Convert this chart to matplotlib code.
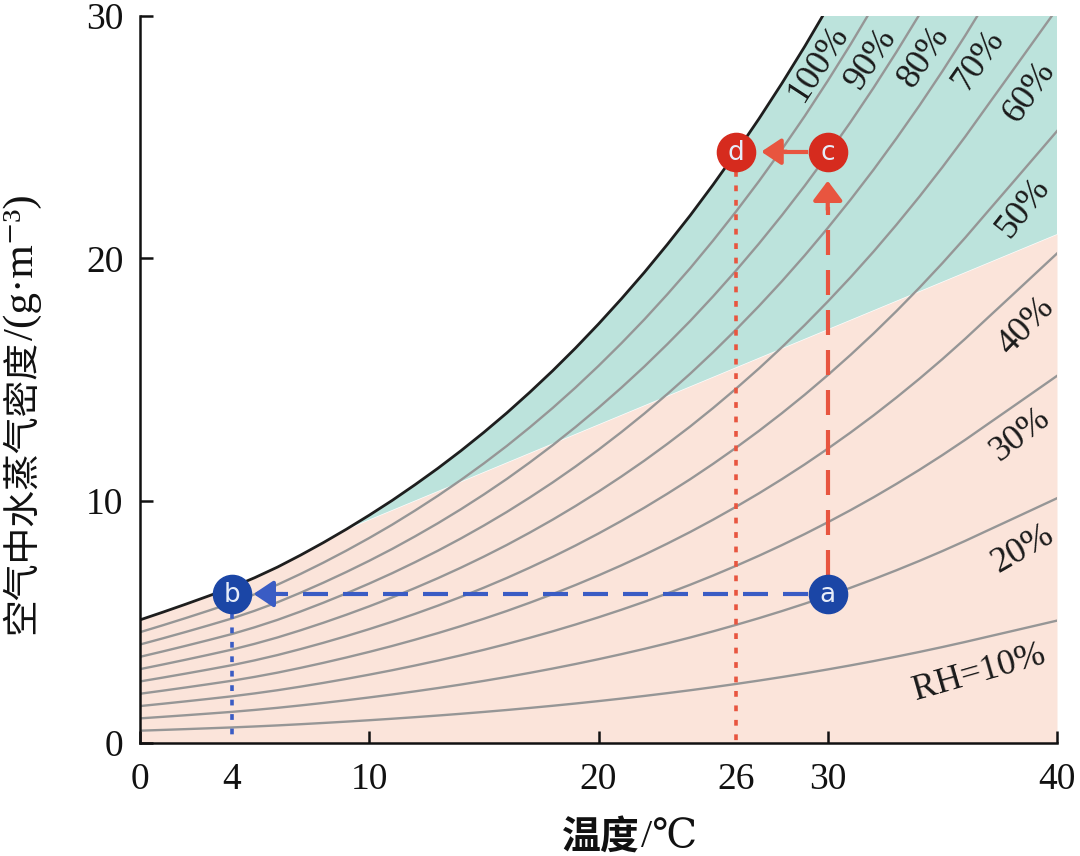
import numpy as np
import matplotlib
matplotlib.use("Agg")
import matplotlib.pyplot as plt

# ---------------- data ----------------
temps = list(range(0, 41))  # °C
sat_density = [5.08, 5.40, 5.73, 6.07, 6.42, 6.82, 7.26, 7.75, 8.27, 8.82,
               9.40, 10.01, 10.66, 11.34, 12.06, 12.82, 13.62, 14.47, 15.36, 16.30,
               17.29, 18.33, 19.42, 20.57, 21.77, 23.04, 24.37, 25.76, 27.22, 28.75,
               30.36, 32.04, 33.80, 35.65, 37.58, 39.60, 41.71, 43.91, 46.10, 48.30, 50.50]  # g/m3, RH=100%
rh_levels = [10, 20, 30, 40, 50, 60, 70, 80, 90]        # grey curves, %
rh_labels = ["RH=10%", "20%", "30%", "40%", "50%", "60%", "70%", "80%", "90%", "100%"]
boundary_T = [10.2, 40.0]      # green / pink boundary line
boundary_v = [9.3, 21.0]

# state points
pt_names = ["a", "b", "c", "d"]
pt_T = [30, 4, 30, 26]
pt_v = [6.15, 6.15, 24.4, 24.4]

x_major = [0, 10, 20, 30, 40]
x_minor = [4, 26]
y_ticks = [0, 10, 20, 30]

# ---------------- styling ----------------
SERIF = ["Liberation Serif", "DejaVu Serif", "Noto Sans CJK SC"]
C_GREEN = "#bce3dc"
C_PINK = "#fbe4da"
C_GREY = "#969696"
C_BLUE = "#1b46a6"
C_BLUE_L = "#3a5cc4"
C_RED = "#d62b1e"
C_RED_L = "#e8553f"

fig = plt.figure(figsize=(10.8, 8.56), dpi=100)
ax = fig.add_axes([140 / 1080, 1 - 743 / 856, 917 / 1080, 727 / 856])

T = np.array(temps, dtype=float)
S = np.array(sat_density)
slope = (boundary_v[1] - boundary_v[0]) / (boundary_T[1] - boundary_T[0])
B = boundary_v[0] + slope * (T - boundary_T[0])

# fills
ax.fill_between(T, 0, np.minimum(S, B), color=C_PINK, lw=0, zorder=1)
ax.fill_between(T, B, S, where=S >= B, interpolate=True, color=C_GREEN, lw=0, zorder=1)

# RH curves
for rh in rh_levels:
    ax.plot(T, S * rh / 100.0, color=C_GREY, lw=1.7, zorder=2, solid_joinstyle="round")
ax.plot(T, S, color="#1e1e1e", lw=2.0, zorder=3, solid_joinstyle="round")

# RH labels (text positions / rotations are layout)
lab_pos = [(36.6, 2.9, 16), (38.5, 8.0, 30), (38.4, 12.7, 38), (38.65, 17.2, 46),
           (38.55, 22.1, 52), (38.8, 26.85, 55), (36.6, 28.2, 55), (34.2, 28.3, 56),
           (31.9, 28.25, 56), (29.6, 28.05, 57)]
for txt, (x, y, r) in zip(rh_labels, lab_pos):
    ax.text(x, y, txt, rotation=r, ha="center", va="center", fontsize=26,
            family=SERIF, color="#1a1a1a", zorder=4, rotation_mode="anchor")

# ---------------- process lines ----------------
a_T, b_T, c_T, d_T = pt_T
a_v, b_v, c_v, d_v = pt_v
# a -> b (blue dashed, horizontal)
ax.plot([a_T - 0.85, b_T + 2.2], [a_v, b_v], color=C_BLUE_L, lw=3.0,
        dashes=(6.0, 3.6), zorder=4)
ax.annotate("", xy=(b_T + 0.95, b_v), xytext=(b_T + 2.2, b_v),
            arrowprops=dict(arrowstyle="-|>,head_length=0.6,head_width=0.4",
                            color=C_BLUE_L, lw=3, shrinkA=0, shrinkB=0,
                            mutation_scale=20), zorder=4)
# b down to axis (blue dotted)
ax.plot([b_T, b_T], [b_v - 0.8, 0], color=C_BLUE_L, lw=2.6, dashes=(1.6, 2.4), zorder=4)

# a -> c (red dashed, vertical)
ax.plot([a_T, c_T], [a_v + 0.8, c_v - 2.3], color=C_RED_L, lw=3.0,
        dashes=(6.0, 3.6), zorder=4)
ax.annotate("", xy=(c_T, c_v - 1.2), xytext=(c_T, c_v - 2.4),
            arrowprops=dict(arrowstyle="-|>,head_length=0.6,head_width=0.45",
                            color=C_RED_L, lw=3, shrinkA=0, shrinkB=0,
                            mutation_scale=20), zorder=4)
# c -> d (red, horizontal)
ax.plot([c_T - 0.95, d_T + 2.2], [c_v, d_v], color=C_RED_L, lw=3.0, zorder=4)
ax.annotate("", xy=(d_T + 1.1, d_v), xytext=(d_T + 2.2, d_v),
            arrowprops=dict(arrowstyle="-|>,head_length=0.6,head_width=0.4",
                            color=C_RED_L, lw=3, shrinkA=0, shrinkB=0,
                            mutation_scale=20), zorder=4)
# d down to axis (red dotted)
ax.plot([d_T, d_T], [d_v - 0.8, 0], color=C_RED_L, lw=2.6, dashes=(1.6, 2.4), zorder=4)

# circles
pt_colors = [C_BLUE, C_BLUE, C_RED, C_RED]
for name, x, y, c in zip(pt_names, pt_T, pt_v, pt_colors):
    ax.plot([x], [y], "o", ms=27.5, color=c, mec=c, mew=1.0, zorder=6, clip_on=False)
    ax.text(x, y - 0.05, name, ha="center", va="center", fontsize=19,
            family="DejaVu Sans", color="#e6ecf8", zorder=7)

# ---------------- axes ----------------
ax.set_xlim(0, 40)
ax.set_ylim(0, 30)
for s in ["top", "right"]:
    ax.spines[s].set_visible(False)
for s in ["left", "bottom"]:
    ax.spines[s].set_linewidth(1.8)
    ax.spines[s].set_color("#111111")
    ax.spines[s].set_zorder(8)

ax.set_xticks(x_major, [str(v) for v in x_major])
ax.set_xticks(x_minor, [str(v) for v in x_minor], minor=True)
ax.set_yticks(y_ticks, [str(v) for v in y_ticks])
ax.tick_params(axis="both", which="major", direction="in", length=9, width=1.8,
               labelsize=27, colors="#111111")
ax.tick_params(axis="x", which="minor", direction="in", length=0, labelsize=27,
               colors="#111111")
ax.tick_params(axis="x", which="both", pad=14)
ax.tick_params(axis="y", which="both", pad=12)
for lab in ax.get_xticklabels(which="both") + ax.get_yticklabels():
    lab.set_family(SERIF)

# axis titles
fig.text(640 / 1080, 1 - 838 / 856, "温度", ha="right", va="center", fontsize=28,
         family=["Noto Sans CJK SC"], weight="bold", color="#111111")
fig.text(641 / 1080, 1 - 838 / 856, "/℃", ha="left", va="center", fontsize=29,
         family=SERIF, color="#111111")
fig.text(21 / 1080, 1 - 340 / 856, "空气中水蒸气密度", rotation=90, ha="center", va="top",
         fontsize=26.5, family=["Noto Sans CJK SC"], color="#111111")
fig.text(23 / 1080, 1 - 340 / 856, "/(g·m⁻³)", rotation=90, ha="center", va="bottom",
         fontsize=31, family=SERIF, color="#111111")

fig.savefig("out.png", dpi=100)
